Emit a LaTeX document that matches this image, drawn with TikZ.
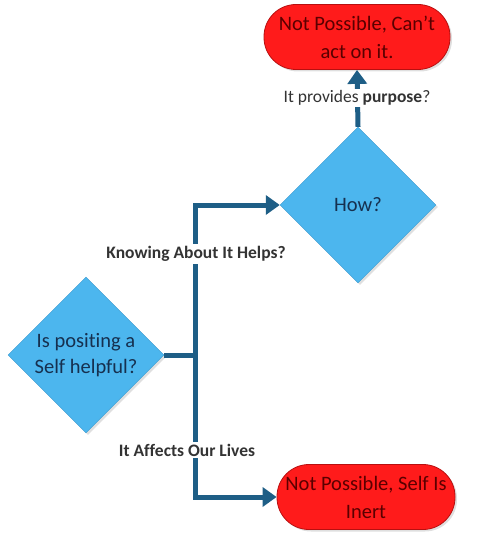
\documentclass[tikz,border=0pt]{standalone}
\usepackage{fontspec}
\setmainfont{Carlito}[Ligatures=NoCommon]
\usetikzlibrary{shapes.geometric,arrows.meta,shadows}
\definecolor{skyfill}{HTML}{4CB6EE}
\definecolor{skyline}{HTML}{3A9AD0}
\definecolor{navytext}{HTML}{16304F}
\definecolor{flowblue}{HTML}{1E5E86}
\definecolor{stopred}{HTML}{FF1B1B}
\definecolor{stopline}{HTML}{B81010}
\definecolor{stoptext}{HTML}{5A0000}
\begin{document}
\begin{tikzpicture}[
    x=1pt,y=-1pt,
    decision/.style={
        diamond,
        aspect=1,
        draw=skyline,
        fill=skyfill,
        drop shadow={opacity=0.25, shadow xshift=2pt, shadow yshift=-2pt},
        minimum width=156pt,
        minimum height=156pt,
        inner sep=0pt,
        text=navytext,
        font=\fontsize{20.5}{26}\selectfont,
        align=center
    },
    terminal/.style={
        rectangle,
        rounded corners=32pt,
        draw=stopline,
        line width=0.8pt,
        fill=stopred,
        drop shadow={opacity=0.25, shadow xshift=2pt, shadow yshift=-2pt},
        minimum width=186pt,
        minimum height=65pt,
        inner sep=0pt,
        text=stoptext,
        font=\fontsize{20.5}{28}\selectfont,
        align=center
    },
    cond/.style={
        fill=white,
        inner sep=2pt,
        text=black!80,
        font=\fontsize{17.5}{20}\selectfont
    },
    wire/.style={line width=5pt, draw=flowblue},
    arr/.style={wire, -{Triangle[length=14pt,width=19pt]}}
]
    \useasboundingbox (0,0) rectangle (476,540);

    % decisions
    \node[decision] (self) at (86,355) {Is positing a\\ Self helpful?};
    \node[decision] (how) at (358,205) {How?};

    % outcomes
    \node[terminal] (noact) at (357,37) {Not Possible, Can't\\ act on it.};
    \node[terminal, minimum width=178pt] (inert) at (366,497) {Not Possible, Self Is\\ Inert};

    % branches
    \coordinate (fork) at (195,355);
    \draw[wire] (self.east) -- (fork);
    \draw[arr] (fork) |- (how.west);
    \draw[arr] (fork) |- (inert.west);
    \draw[arr] (how.north) -- (noact.south);

    % labels
    \node[cond] (helps) at (196,254) {\bfseries Knowing About It Helps?};
    \node[cond] (lives) at (187,450) {\bfseries It Affects Our Lives};
    \node[cond] (purpose) at (357,98) {It provides \textbf{purpose}?};

\end{tikzpicture}
\end{document}
